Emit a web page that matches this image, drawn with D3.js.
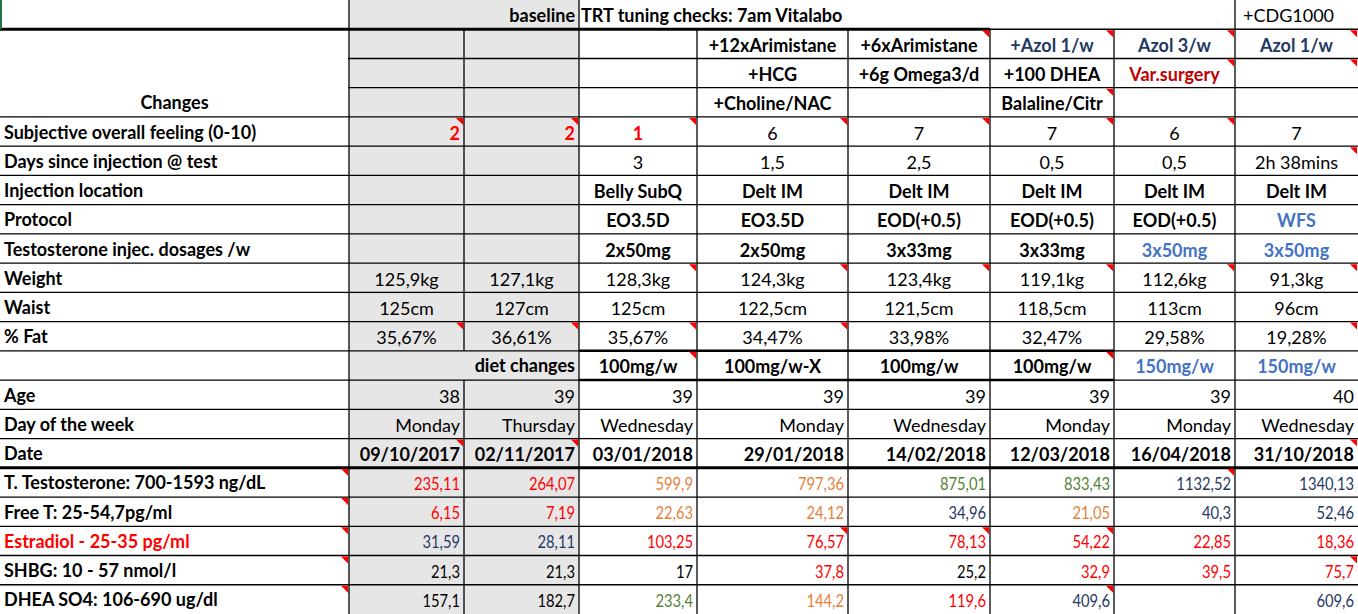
<!DOCTYPE html>
<html>
<head>
<meta charset="utf-8">
<script src="https://cdn.jsdelivr.net/npm/d3@7"></script>
<style>
  body { margin: 0; background: #fff; }
  text { font-family: Lato, "Open Sans", sans-serif; font-size: 18px; }
</style>
</head>
<body>
<svg id="sheet" width="1358" height="614"></svg>
<script>
// column edges of the sheet (px)
var colEdges = [0, 349, 464, 579, 697, 848, 990, 1114, 1235, 1358];

var rowLabels = ["", "", "", "Changes", "Subjective overall feeling (0-10)", "Days since injection @ test",
  "Injection location", "Protocol", "Testosterone injec. dosages /w", "Weight", "Waist", "% Fat", "",
  "Age", "Day of the week", "Date", "T. Testosterone: 700-1593 ng/dL", "Free T: 25-54,7pg/ml",
  "Estradiol - 25-35 pg/ml", "SHBG: 10 - 57 nmol/l", "DHEA SO4: 106-690 ug/dl"];

var changes1 = ["", "", "", "+12xArimistane", "+6xArimistane", "+Azol 1/w", "Azol 3/w", "Azol 1/w"];
var changes2 = ["", "", "", "+HCG", "+6g Omega3/d", "+100 DHEA", "Var.surgery", ""];
var changes3 = ["", "", "", "+Choline/NAC", "", "Balaline/Citr", "", ""];
var feeling = ["2", "2", "1", "6", "7", "7", "6", "7"];
var daysSince = ["", "", "3", "1,5", "2,5", "0,5", "0,5", "2h 38mins"];
var injLocation = ["", "", "Belly SubQ", "Delt IM", "Delt IM", "Delt IM", "Delt IM", "Delt IM"];
var protocol = ["", "", "EO3.5D", "EO3.5D", "EOD(+0.5)", "EOD(+0.5)", "EOD(+0.5)", "WFS"];
var dosages = ["", "", "2x50mg", "2x50mg", "3x33mg", "3x33mg", "3x50mg", "3x50mg"];
var weight = ["125,9kg", "127,1kg", "128,3kg", "124,3kg", "123,4kg", "119,1kg", "112,6kg", "91,3kg"];
var waist = ["125cm", "127cm", "125cm", "122,5cm", "121,5cm", "118,5cm", "113cm", "96cm"];
var fat = ["35,67%", "36,61%", "35,67%", "34,47%", "33,98%", "32,47%", "29,58%", "19,28%"];
var dheaDose = ["", "", "100mg/w", "100mg/w-X", "100mg/w", "100mg/w", "150mg/w", "150mg/w"];
var age = ["38", "39", "39", "39", "39", "39", "39", "40"];
var weekday = ["Monday", "Thursday", "Wednesday", "Monday", "Wednesday", "Monday", "Monday", "Wednesday"];
var dates = ["09/10/2017", "02/11/2017", "03/01/2018", "29/01/2018", "14/02/2018", "12/03/2018", "16/04/2018", "31/10/2018"];
var testosterone = ["235,11", "264,07", "599,9", "797,36", "875,01", "833,43", "1132,52", "1340,13"];
var freeT = ["6,15", "7,19", "22,63", "24,12", "34,96", "21,05", "40,3", "52,46"];
var estradiol = ["31,59", "28,11", "103,25", "76,57", "78,13", "54,22", "22,85", "18,36"];
var shbg = ["21,3", "21,3", "17", "37,8", "25,2", "32,9", "39,5", "75,7"];
var dhea = ["157,1", "182,7", "233,4", "144,2", "119,6", "409,6", "", "609,6"];

var testColors = "RROOGGBB", freeTColors = "RROOBOBB", estrColors = "BBRRRRRR",
    shbgColors = "KKKRKRRR", dheaColors = "KKGORBKB";
var palette = { R: "#ff0000", O: "#e5813b", G: "#548235", B: "#1f3864", K: "#000", L: "#4472c4", D: "#c00000" };

// row index -> values, style
var body = [
  { r: 1, v: changes1, bold: true, align: "middle", col: function(i) { return i >= 5 ? "B" : "K"; } },
  { r: 2, v: changes2, bold: true, align: "middle", col: function(i) { return i == 6 ? "D" : "K"; } },
  { r: 3, v: changes3, bold: true, align: "middle" },
  { r: 4, v: feeling, bold: function(i) { return i < 3; }, align: function(i) { return i < 2 ? "end" : "middle"; }, col: function(i) { return i < 3 ? "R" : "K"; } },
  { r: 5, v: daysSince, align: "middle" },
  { r: 6, v: injLocation, bold: true, align: "middle" },
  { r: 7, v: protocol, bold: true, align: "middle", col: function(i) { return i == 7 ? "L" : "K"; } },
  { r: 8, v: dosages, bold: true, align: "middle", col: function(i) { return i >= 6 ? "L" : "K"; } },
  { r: 9, v: weight, align: "middle" },
  { r: 10, v: waist, align: "middle" },
  { r: 11, v: fat, align: "middle" },
  { r: 12, v: dheaDose, bold: true, align: "middle", col: function(i) { return i >= 6 ? "L" : "K"; } },
  { r: 13, v: age, align: "end" },
  { r: 14, v: weekday, align: "end" },
  { r: 15, v: dates, bold: true, align: "end" },
  { r: 16, v: testosterone, align: "end", narrow: true, col: function(i) { return testColors[i]; } },
  { r: 17, v: freeT, align: "end", narrow: true, col: function(i) { return freeTColors[i]; } },
  { r: 18, v: estradiol, align: "end", narrow: true, col: function(i) { return estrColors[i]; } },
  { r: 19, v: shbg, align: "end", narrow: true, col: function(i) { return shbgColors[i]; } },
  { r: 20, v: dhea, align: "end", narrow: true, col: function(i) { return dheaColors[i]; } }
];

// cells with a comment marker [row, col]
var comments = [[4,1],[4,2],[4,3],[4,4],[4,5],[4,6],[4,7],[1,5],[1,6],[1,7],[1,8],[2,7],[2,8],[3,6],
  [9,3],[9,4],[9,5],[9,6],[9,7],[9,8],[11,1],[11,2],[11,3],[11,4],[11,8],[12,3],[12,6],
  [15,1],[15,2],[15,8],[16,0],[17,0],[18,0],[19,0],[20,0],[16,7],[18,4],[18,5],[18,6],[19,8],[20,6],[5,8]];

var svg = d3.select("#sheet");
var y = d3.scaleBand().domain(d3.range(21)).range([0, 614]);
var h = y.bandwidth();
function x0(c) { return colEdges[c]; }
function x1(c) { return colEdges[c + 1]; }

// grey baseline columns
svg.append("rect").attr("x", x0(1)).attr("y", 0).attr("width", x1(2) - x0(1)).attr("height", 614).attr("fill", "#e7e6e6");

// grid lines
var grid = svg.append("g").attr("stroke", "#000").attr("stroke-width", 1.3);
d3.range(1, 21).forEach(function(r) {
  grid.append("line").attr("x1", 0).attr("x2", 1358).attr("y1", y(r)).attr("y2", y(r));
});
// vertical lines: skip merged cells
colEdges.slice(1, -1).forEach(function(cx, k) {
  var c = k + 1;
  d3.range(21).forEach(function(r) {
    if (r == 0 && c != 1 && c != 3 && c != 8) return;
    if (r == 12 && c == 2) return;
    grid.append("line").attr("x1", cx).attr("x2", cx).attr("y1", y(r)).attr("y2", y(r) + h);
  });
});
// thick rules
svg.append("line").attr("x1", 0).attr("x2", x1(5)).attr("y1", y(1)).attr("y2", y(1)).attr("stroke", "#000").attr("stroke-width", 3);
svg.append("line").attr("x1", 0).attr("x2", 1358).attr("y1", y(16)).attr("y2", y(16)).attr("stroke", "#000").attr("stroke-width", 3);
svg.append("line").attr("x1", x0(3)).attr("x2", x1(6)).attr("y1", y(12)).attr("y2", y(12)).attr("stroke", "#000").attr("stroke-width", 2.5);
svg.append("line").attr("x1", x0(3)).attr("x2", x1(6)).attr("y1", y(13)).attr("y2", y(13)).attr("stroke", "#000").attr("stroke-width", 2.5);
// white out grid lines inside "Changes" merged label
svg.append("rect").attr("x", 0).attr("y", y(1) + 2).attr("width", x0(1) - 1).attr("height", 3 * h - 3).attr("fill", "#fff");
svg.append("line").attr("x1", 1).attr("x2", 1).attr("y1", 0).attr("y2", y(1)).attr("stroke", "#217346").attr("stroke-width", 2);

function addText(g, str, cx, cy, anchor, bold, color, narrow) {
  var t = g.append("text").text(str)
    .attr("text-anchor", anchor)
    .attr("font-weight", bold ? "bold" : "normal")
    .attr("fill", color)
    .attr("dominant-baseline", "central");
  if (narrow) {
    t.attr("font-size", 20).attr("transform", "translate(" + cx + "," + cy + ") scale(0.82,1)");
  } else {
    t.attr("x", cx).attr("y", cy);
  }
}

var texts = svg.append("g");
function pos(anchor, c) {
  return anchor == "middle" ? (x0(c) + x1(c)) / 2 : anchor == "end" ? x1(c) - 4 : x0(c) + 4;
}

// header row
addText(texts, "baseline", x1(2) - 4, y(0) + h / 2, "end", true, "#000");
addText(texts, "TRT tuning checks: 7am Vitalabo", x0(3) + 2, y(0) + h / 2, "start", true, "#000");
addText(texts, "+CDG1000", x0(8) + 8, y(0) + h / 2, "start", false, "#000");
addText(texts, "diet changes", x1(2) - 4, y(12) + h / 2, "end", true, "#000");

// row labels
rowLabels.forEach(function(l, r) {
  if (!l) return;
  if (r == 3) { addText(texts, l, x1(0) / 2, y(r) + h / 2, "middle", true, "#000"); return; }
  addText(texts, l, 4, y(r) + h / 2, "start", true, r == 18 ? palette.R : "#000");
});

body.forEach(function(row) {
  row.v.forEach(function(val, i) {
    if (!val) return;
    var c = i + 1;
    var anchor = typeof row.align == "function" ? row.align(i) : row.align;
    var bold = typeof row.bold == "function" ? row.bold(i) : !!row.bold;
    var color = palette[row.col ? row.col(i) : "K"];
    addText(texts, val, pos(anchor, c), y(row.r) + h / 2 + 1, anchor, bold, color, row.narrow);
  });
});

// comment markers
svg.append("g").selectAll("path").data(comments).join("path")
  .attr("d", function(d) {
    var xr = x1(d[1]) - 1, yt = y(d[0]) + 1;
    return "M" + (xr - 7) + "," + yt + "L" + xr + "," + yt + "L" + xr + "," + (yt + 7) + "Z";
  })
  .attr("fill", "#ff0000");
</script>
</body>
</html>
